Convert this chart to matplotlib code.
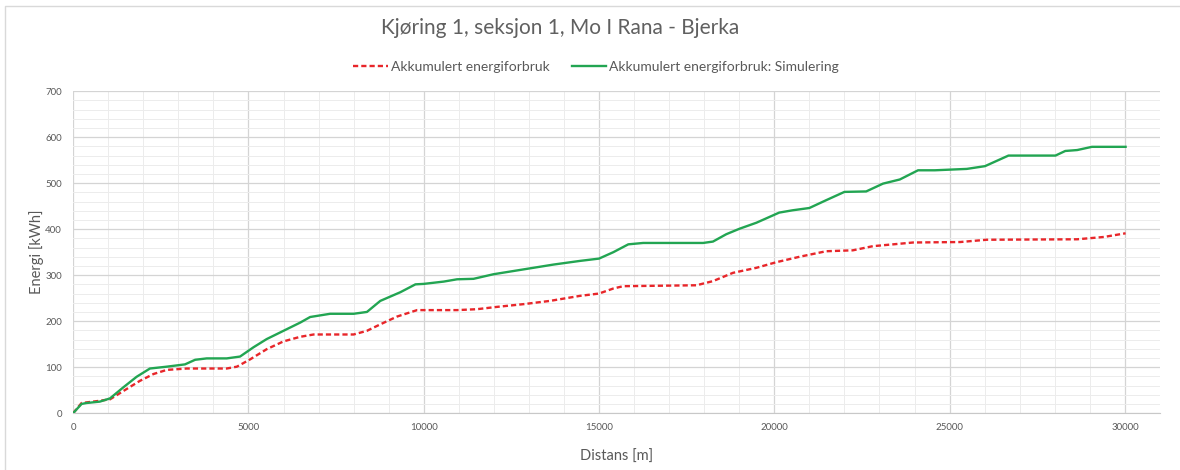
import matplotlib
matplotlib.use('Agg')
import matplotlib.pyplot as plt
from matplotlib.lines import Line2D
from matplotlib.ticker import MultipleLocator

plt.rcParams['font.family'] = ['Lato', 'DejaVu Sans']

# Data (distance in m, energy in kWh)
sim_x = [0, 240, 380, 760, 1050, 1430, 1810, 2190, 2670, 3190, 3480, 3810,
         4380, 4760, 5140, 5520, 6000, 6480, 6760, 7330, 8000, 8380, 8760,
         9336, 9763, 10000, 10570, 10950, 11420, 11990, 12560, 13130, 13700,
         14460, 15000, 15410, 15835, 16260, 17970, 18250, 18630, 19010,
         19490, 20140, 20520, 21000, 21480, 22000, 22620, 23100, 23580,
         24100, 24580, 25490, 26010, 26680, 28020, 28300, 28640, 29060, 30020]
sim_y = [0, 20, 22, 25, 32, 56, 79, 97, 101, 106, 116, 119,
         119, 123, 143, 161, 179, 197, 209, 216, 216, 220, 244,
         263, 280, 281, 286, 291, 292, 302, 309, 316, 323,
         331, 336, 350, 367, 370, 370, 373, 389, 401,
         414, 436, 441, 446, 463, 481, 482, 499, 508,
         528, 528, 531, 537, 560, 560, 570, 572, 579, 579]

meas_x = [0, 240, 670, 1050, 1430, 1900, 2290, 2670, 3240, 4380, 4670,
          5050, 5520, 6000, 6480, 6860, 8000, 8380, 8760, 9240, 9810,
          10950, 11520, 12090, 12850, 13600, 14460, 15000, 15410, 15690,
          17780, 18250, 18820, 19490, 20050, 20720, 21480, 22240, 22810,
          23390, 23960, 25300, 26060, 28640, 29400, 30020]
meas_y = [0, 22, 26, 30, 48, 70, 85, 94, 97, 97, 101,
          117, 139, 156, 166, 171, 171, 179, 193, 210, 224,
          224, 226, 231, 237, 244, 255, 260, 271, 276,
          278, 287, 305, 316, 328, 340, 352, 354, 363,
          367, 371, 372, 377, 378, 383, 391]

TITLE = 'Kjøring 1, seksjon 1, Mo I Rana - Bjerka'
LABEL_MEAS = 'Akkumulert energiforbruk'
LABEL_SIM = 'Akkumulert energiforbruk: Simulering'

TEXT = '#595959'

fig = plt.figure(figsize=(11.8, 4.7), dpi=100)
ax = fig.add_axes([0.062, 0.121, 0.921, 0.685])

ax.plot(meas_x, meas_y, color='#e8262a', lw=1.7, ls=(0, (2.2, 1.3)),
        label=LABEL_MEAS, zorder=3)
ax.plot(sim_x, sim_y, color='#22a552', lw=1.7, label=LABEL_SIM, zorder=3)

ax.set_xlim(0, 31000)
ax.set_ylim(0, 700)
ax.xaxis.set_major_locator(MultipleLocator(5000))
ax.xaxis.set_minor_locator(MultipleLocator(1000))
ax.yaxis.set_major_locator(MultipleLocator(100))
ax.yaxis.set_minor_locator(MultipleLocator(20))
ax.grid(which='major', color='#d4d4d4', lw=0.9)
ax.grid(which='minor', color='#ececec', lw=0.7)
ax.set_axisbelow(True)

for s in ['top', 'right', 'left']:
    ax.spines[s].set_visible(False)
ax.spines['bottom'].set_color('#c8c8c8')
ax.tick_params(which='both', length=0, colors=TEXT, labelsize=7)
ax.tick_params(axis='x', pad=7)
ax.tick_params(axis='y', pad=8)

ax.set_xlabel('Distans [m]', color=TEXT, fontsize=10.5, labelpad=13)
ax.set_ylabel('Energi [kWh]', color=TEXT, fontsize=10.5, labelpad=1)

fig.text(0.475, 0.94, TITLE, ha='center', va='center', fontsize=15, color='#606060')
fig.legend(loc='center', bbox_to_anchor=(0.505, 0.857), ncol=2, frameon=False,
           fontsize=10, labelcolor=TEXT, handlelength=2.5, handletextpad=0.2,
           columnspacing=1.6)

# outer chart border (only left and top edges are visible in the reference)
fig.lines.append(Line2D([0.0045, 0.0045, 1.0], [0.0, 0.987, 0.987],
                        transform=fig.transFigure, color='#d9d9d9', lw=1))

fig.savefig('out.png', dpi=100)
